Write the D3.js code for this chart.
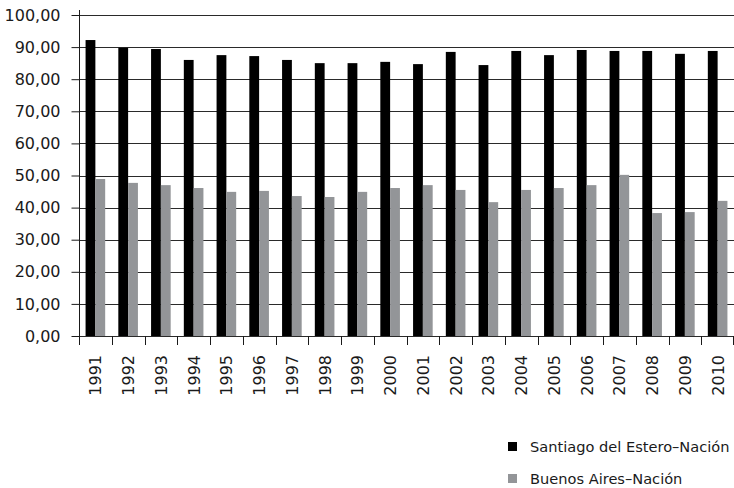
<!DOCTYPE html>
<html><head><meta charset="utf-8">
<script src="https://cdn.jsdelivr.net/npm/d3@7"></script>
<style>
html,body{margin:0;padding:0;background:#fff;}
svg{display:block;}
text{font-family:"DejaVu Sans",sans-serif;fill:#1a1a1a;}
</style></head>
<body><svg id="c" width="734" height="488"></svg>
<script>
const years = ["1991","1992","1993","1994","1995","1996","1997","1998","1999","2000","2001","2002","2003","2004","2005","2006","2007","2008","2009","2010"];
const santiago = [92.2,89.8,89.4,86.0,87.5,87.2,86.0,85.0,85.0,85.4,84.7,88.5,84.4,88.8,87.5,89.1,88.8,88.8,87.9,88.8];
const buenosAires = [48.9,47.7,47.0,46.1,44.9,45.2,43.6,43.3,44.9,46.1,47.0,45.5,41.7,45.5,46.1,47.0,50.2,38.3,38.6,42.1];
const seriesNames = ["Santiago del Estero–Nación","Buenos Aires–Nación"];
const seriesColors = ["#000000","#939598"];
const yTicks = [0,10,20,30,40,50,60,70,80,90,100];

(function(){
const svg = d3.select("#c");
const mLeft = 79, mRight = 734, mTop = 15, mBottom = 336;
const x0 = d3.scaleBand().domain(years).range([mLeft, mRight]).padding(0);
const x1 = d3.scaleBand().domain([0,1]).range([0, x0.bandwidth()]).paddingInner(0).paddingOuter(0.67);
const y = d3.scaleLinear().domain([0,100]).range([mBottom, mTop]);

// gridlines
svg.append("g").selectAll("line").data(yTicks).join("line")
  .attr("x1", mLeft).attr("x2", mRight)
  .attr("y1", d => Math.round(y(d))+0.5).attr("y2", d => Math.round(y(d))+0.5)
  .attr("stroke", "#2a2a2a").attr("stroke-width", 1);

// bars
const data = years.map((yr,i)=>({yr, vals:[santiago[i], buenosAires[i]]}));
const g = svg.append("g").selectAll("g").data(data).join("g")
  .attr("transform", d => `translate(${x0(d.yr)},0)`);
g.selectAll("rect").data(d => d.vals.map((v,k)=>({v,k}))).join("rect")
  .attr("x", d => x1(d.k)).attr("width", x1.bandwidth())
  .attr("y", d => y(d.v)).attr("height", d => y(0) - y(d.v))
  .attr("fill", d => seriesColors[d.k]);

// y axis
const yAxis = d3.axisLeft(y).tickValues(yTicks).tickSize(8).tickPadding(11)
  .tickFormat(d => d3.format(".2f")(d).replace(".", ","));
const ya = svg.append("g").attr("transform", `translate(${mLeft+0.5},0)`).call(yAxis);
ya.select(".domain").attr("d", `M0,10V345`).attr("stroke","#1a1a1a");
ya.selectAll(".tick line").attr("stroke","#1a1a1a");
ya.selectAll(".tick text").style("font-size","16px").style("font-family","DejaVu Sans").attr("fill","#1a1a1a");

// x axis ticks at category boundaries
const bounds = years.slice(1).map(d => x0(d)).concat([mRight-1]);
svg.append("g").selectAll("line").data(bounds).join("line")
  .attr("x1", d => Math.round(d)+0.5).attr("x2", d => Math.round(d)+0.5)
  .attr("y1", mBottom).attr("y2", mBottom+9).attr("stroke","#1a1a1a");

// x labels rotated
svg.append("g").selectAll("text").data(years).join("text")
  .attr("transform", d => `translate(${x0(d)+x0.bandwidth()/2+6},355) rotate(-90)`)
  .attr("text-anchor","end")
  .style("font-size","16px")
  .text(d => d);

// legend
const lg = svg.append("g").selectAll("g").data(seriesNames).join("g")
  .attr("transform", (d,i) => `translate(508,${442 + i*32})`);
lg.append("rect").attr("width", 9).attr("height", 9).attr("fill", (d,i)=>seriesColors[i]);
lg.append("text").attr("x", 22).attr("y", 10).style("font-size","14.6px").text(d => d);
})();
</script></body></html>
